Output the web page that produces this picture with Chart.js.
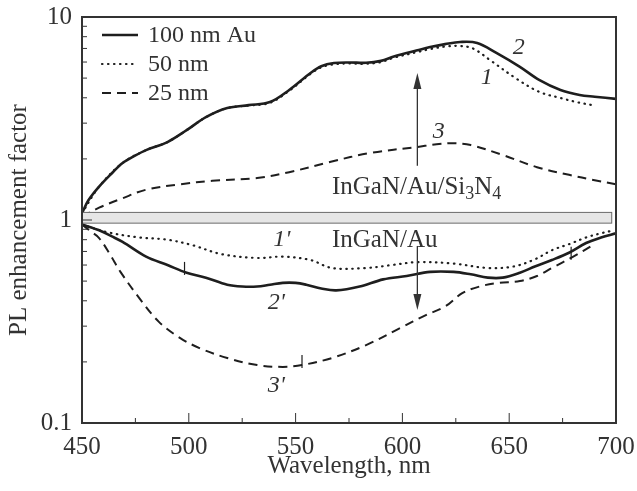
<!DOCTYPE html>
<html>
<head>
<meta charset="utf-8">
<script src="https://cdn.jsdelivr.net/npm/chart.js@4.4.1/dist/chart.umd.min.js"></script>
<style>
  html, body { margin: 0; padding: 0; background: #fff; }
  #wrap { width: 637px; height: 491px; position: relative; }
</style>
</head>
<body>
<div id="wrap"><canvas id="plChart"></canvas></div>
<script>
// curve 2: 100 nm Au, InGaN/Au/Si3N4
const wl2 = [450, 453, 458, 464, 469, 475, 480, 490, 499, 508, 518, 528, 538, 547, 557, 562, 568, 575, 583, 590, 596, 607, 613, 620, 627, 635, 644, 655, 664, 674, 683, 690, 700];
const pl2 = [1.08, 1.25, 1.46, 1.7, 1.91, 2.08, 2.21, 2.42, 2.77, 3.21, 3.56, 3.68, 3.81, 4.37, 5.3, 5.72, 5.93, 5.97, 5.95, 6.08, 6.38, 6.85, 7.11, 7.35, 7.53, 7.45, 6.65, 5.68, 4.9, 4.37, 4.13, 4.05, 3.95];
// curve 1: 50 nm
const wl1 = [450, 458, 469, 480, 490, 499, 508, 518, 528, 538, 547, 557, 562, 568, 575, 583, 590, 596, 607, 613, 620, 627, 633, 641, 653, 664, 674, 682, 689];
const pl1 = [1.08, 1.46, 1.91, 2.21, 2.42, 2.77, 3.21, 3.56, 3.66, 3.78, 4.33, 5.25, 5.65, 5.85, 5.9, 5.88, 6.0, 6.3, 6.72, 6.95, 7.15, 7.2, 7.0, 6.14, 5.0, 4.28, 3.99, 3.8, 3.68];
// curve 3: 25 nm
const wl3 = [450, 458, 469, 480, 496, 511, 532, 547, 566, 585, 607, 616, 624, 632, 647, 663, 678, 690, 700];
const pl3 = [1.04, 1.15, 1.28, 1.41, 1.5, 1.56, 1.61, 1.72, 1.93, 2.14, 2.29, 2.36, 2.39, 2.34, 2.09, 1.82, 1.67, 1.57, 1.5];

// curve 2': 100 nm Au, InGaN/Au
const wl2p = [450, 458, 464, 469, 480, 490, 499, 508, 518, 525, 532, 538, 544, 550, 555, 562, 569, 580, 591, 602, 613, 624, 632, 640, 647, 655, 662, 670, 678, 686, 693, 700];
const pl2p = [0.95, 0.89, 0.83, 0.78, 0.66, 0.6, 0.55, 0.52, 0.48, 0.47, 0.47, 0.48, 0.49, 0.49, 0.48, 0.46, 0.45, 0.47, 0.51, 0.53, 0.555, 0.555, 0.54, 0.52, 0.52, 0.55, 0.59, 0.635, 0.69, 0.77, 0.82, 0.86];
// curve 1': 50 nm
const wl1p = [450, 462, 477, 490, 502, 515, 532, 544, 557, 567, 583, 595, 607, 624, 640, 652, 662, 670, 678, 686, 693, 699];
const pl1p = [0.95, 0.87, 0.82, 0.8, 0.75, 0.68, 0.65, 0.66, 0.635, 0.58, 0.58, 0.6, 0.62, 0.61, 0.58, 0.59, 0.64, 0.71, 0.76, 0.82, 0.86, 0.89];
// curve 3': 25 nm
const wl3p = [450, 454, 458, 463, 468, 477, 486, 496, 505, 518, 532, 544, 553, 567, 583, 599, 611, 620, 628, 636, 645, 655, 663, 670, 680, 689];
const pl3p = [0.95, 0.88, 0.815, 0.68, 0.555, 0.41, 0.315, 0.262, 0.234, 0.209, 0.193, 0.189, 0.193, 0.209, 0.242, 0.294, 0.34, 0.375, 0.436, 0.47, 0.49, 0.5, 0.53, 0.58, 0.66, 0.75];

const yTickValues = [0.1, 0.2, 0.3, 0.4, 0.5, 0.6, 0.7, 0.8, 0.9, 1, 2, 3, 4, 5, 6, 7, 8, 9, 10];
const yTickLabels = { 0.1: '0.1', 1: '1', 10: '10' };
const legendNames = ['100 nm Au', '50 nm', '25 nm'];

const INK = '#1e1e1e';
const TEXT = '#333';
const SERIF = '"Liberation Serif", "Times New Roman", serif';

const pts = (xs, ys) => xs.map((x, i) => ({ x: x, y: ys[i] }));

const solid = { borderColor: INK, borderWidth: 2.6, borderDash: [] };
const dotted = { borderColor: INK, borderWidth: 2.2, borderDash: [0.5, 5.5], borderCapStyle: 'round' };
const dashed = { borderColor: INK, borderWidth: 2, borderDash: [9, 6] };

function line(data, style) {
    return Object.assign({ data: data, pointRadius: 0, fill: false, tension: 0.35 }, style);
}

function yPix(chart, v) { return chart.scales.y.getPixelForValue(v); }
function xPix(chart, v) { return chart.scales.x.getPixelForValue(v); }

// keep the plot box where the reference has it
function noPadding(s) {
    s.paddingTop = 0;
    s.paddingBottom = 0;
    s.paddingLeft = 0;
    s.paddingRight = 0;
}

function arrow(ctx, x, y0, y1) {
    const dir = y1 < y0 ? 1 : -1;
    ctx.beginPath();
    ctx.moveTo(x, y0);
    ctx.lineTo(x, y1 + dir * 12);
    ctx.stroke();
    ctx.beginPath();
    ctx.moveTo(x, y1);
    ctx.lineTo(x - 4, y1 + dir * 16);
    ctx.lineTo(x + 4, y1 + dir * 16);
    ctx.closePath();
    ctx.fill();
}

const decorations = {
    id: 'decorations',
    afterDatasetsDraw(chart) {
        const ctx = chart.ctx;
        const area = chart.chartArea;
        ctx.save();

        // grey reference band around 1
        const bTop = yPix(chart, 1.09), bBot = yPix(chart, 0.965);
        ctx.fillStyle = '#e6e6e6';
        ctx.strokeStyle = '#6a6a6a';
        ctx.lineWidth = 1;
        ctx.fillRect(area.left, bTop, xPix(chart, 698) - area.left, bBot - bTop);
        ctx.strokeRect(area.left, bTop, xPix(chart, 698) - area.left, bBot - bTop);

        // arrows
        ctx.strokeStyle = '#333';
        ctx.fillStyle = '#333';
        ctx.lineWidth = 1.3;
        arrow(ctx, xPix(chart, 607), yPix(chart, 1.85), yPix(chart, 5.3));
        arrow(ctx, xPix(chart, 607), yPix(chart, 0.745), yPix(chart, 0.36));

        // small marks on curves
        ctx.strokeStyle = INK;
        ctx.lineWidth = 1.2;
        [[498, 0.555], [553, 0.193], [679, 0.66]].forEach(m => {
            const px = xPix(chart, m[0]), py = yPix(chart, m[1]);
            ctx.beginPath();
            ctx.moveTo(px, py - 10);
            ctx.lineTo(px, py + 3);
            ctx.stroke();
        });

        // structure labels
        ctx.fillStyle = TEXT;
        ctx.textBaseline = 'middle';
        ctx.textAlign = 'left';
        let tx = xPix(chart, 567);
        let ty = yPix(chart, 1.44);
        const big = '25px ' + SERIF, small = '18px ' + SERIF;
        [['InGaN/Au/Si', big, 0], ['3', small, 6], ['N', big, 0], ['4', small, 6]].forEach(s => {
            ctx.font = s[1];
            ctx.fillText(s[0], tx, ty + s[2]);
            tx += ctx.measureText(s[0]).width;
        });
        ctx.font = big;
        ctx.fillText('InGaN/Au', xPix(chart, 567), yPix(chart, 0.797));

        // curve numbers
        ctx.font = 'italic 24px ' + SERIF;
        ctx.textAlign = 'center';
        [['2', 654.5, 7.03], ['1', 639.5, 5.0], ['3', 617, 2.71],
         ["1'", 543.5, 0.797], ["2'", 541, 0.39], ["3'", 541, 0.152]].forEach(l => {
            ctx.fillText(l[0], xPix(chart, l[1]), yPix(chart, l[2]));
        });

        // legend
        ctx.textAlign = 'left';
        ctx.font = '24px ' + SERIF;
        [solid, dotted, dashed].forEach((st, i) => {
            const ly = 35 + i * 29;
            ctx.strokeStyle = INK;
            ctx.lineWidth = st.borderWidth;
            ctx.lineCap = st.borderCapStyle || 'butt';
            ctx.setLineDash(st.borderDash);
            ctx.beginPath();
            ctx.moveTo(area.left + 20, ly);
            ctx.lineTo(area.left + 56, ly);
            ctx.stroke();
            ctx.setLineDash([]);
            ctx.fillStyle = TEXT;
            ctx.fillText(legendNames[i], area.left + 66, ly + 1);
        });
        ctx.restore();
    },
    afterDraw(chart) {
        const ctx = chart.ctx;
        const area = chart.chartArea;
        ctx.save();
        ctx.strokeStyle = '#333';
        ctx.lineWidth = 1;
        // inward tick marks
        chart.scales.x.ticks.forEach(t => {
            const px = xPix(chart, t.value);
            const len = t.value % 50 === 0 ? 10 : 5;
            ctx.beginPath();
            ctx.moveTo(px, area.bottom);
            ctx.lineTo(px, area.bottom - len);
            ctx.stroke();
        });
        chart.scales.y.ticks.forEach(t => {
            const py = yPix(chart, t.value);
            const len = yTickLabels[t.value] ? 10 : 5;
            ctx.beginPath();
            ctx.moveTo(area.left, py);
            ctx.lineTo(area.left + len, py);
            ctx.stroke();
        });
        // frame
        ctx.lineWidth = 2;
        ctx.strokeRect(area.left, area.top, area.right - area.left, area.bottom - area.top);
        ctx.restore();
    }
};

const ctx = document.getElementById('plChart').getContext('2d');
new Chart(ctx, {
    type: 'line',
    data: {
        datasets: [
            line(pts(wl2, pl2), solid),
            line(pts(wl1, pl1), dotted),
            line(pts(wl3, pl3), dashed),
            line(pts(wl2p, pl2p), solid),
            line(pts(wl1p, pl1p), dotted),
            line(pts(wl3p, pl3p), dashed)
        ]
    },
    options: {
        responsive: true,
        maintainAspectRatio: false,
        animation: false,
        layout: { padding: { top: 17, right: 21, left: 0, bottom: 0 } },
        plugins: { legend: { display: false }, tooltip: { enabled: false } },
        scales: {
            x: {
                type: 'linear',
                min: 450,
                max: 700,
                grid: { display: false, drawTicks: false },
                border: { display: false },
                ticks: {
                    stepSize: 25,
                    padding: 9,
                    maxRotation: 0,
                    autoSkip: false,
                    color: TEXT,
                    font: { family: SERIF, size: 25 },
                    callback: v => (v % 50 === 0 ? String(v) : '')
                },
                title: {
                    display: true,
                    text: 'Wavelength, nm',
                    color: TEXT,
                    font: { family: SERIF, size: 25 },
                    padding: { top: 0, bottom: 10 }
                },
                afterFit: s => { s.height = 68; noPadding(s); }
            },
            y: {
                type: 'logarithmic',
                min: 0.1,
                max: 10,
                grid: { display: false, drawTicks: false },
                border: { display: false },
                afterBuildTicks: s => { s.ticks = yTickValues.map(v => ({ value: v })); },
                ticks: {
                    padding: 10,
                    autoSkip: false,
                    color: TEXT,
                    font: { family: SERIF, size: 25 },
                    callback: v => yTickLabels[v] || ''
                },
                title: {
                    display: true,
                    text: 'PL enhancement factor',
                    color: TEXT,
                    font: { family: SERIF, size: 25 },
                    padding: { top: 4, bottom: 0 }
                },
                afterFit: s => { s.width = 82; noPadding(s); }
            }
        }
    },
    plugins: [decorations]
});
</script>
</body>
</html>
